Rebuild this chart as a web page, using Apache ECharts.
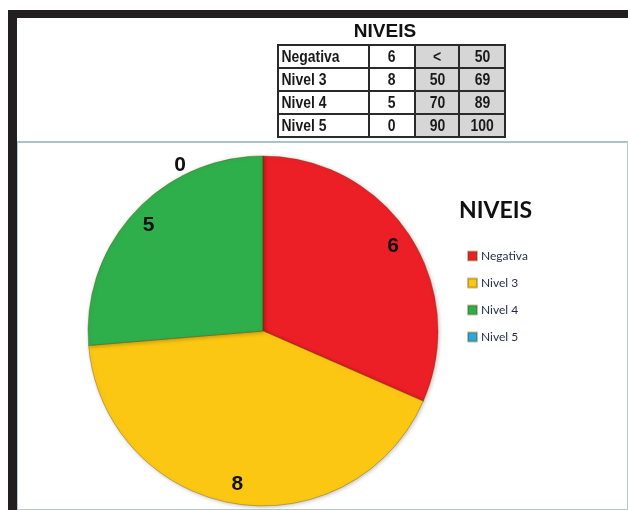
<!DOCTYPE html>
<html>
<head>
<meta charset="utf-8">
<script src="https://cdn.jsdelivr.net/npm/echarts@6/dist/echarts.min.js"></script>
<style>
    html, body { margin: 0; padding: 0; background: #fff; }
    #wrap { position: relative; width: 628px; height: 510px; overflow: hidden; }
    #barTop { position: absolute; left: 8px; top: 10px; width: 620px; height: 8px; background: #231f20; }
    #barLeft { position: absolute; left: 8px; top: 10px; width: 9px; height: 500px; background: #231f20; }
    #area { position: absolute; left: 17px; top: 141px; width: 609px; height: 366px; border: 1px solid #b9c8cf; border-top: 2px solid #a9c2cc; }
    #container { position: absolute; left: 0; top: 0; width: 628px; height: 510px; }
    #tblTitle { position: absolute; left: 330px; top: 20px; width: 110px; text-align: center;
        font: bold 19px "Liberation Sans", Arial, sans-serif; color: #111; }
    #tbl { position: absolute; left: 277px; top: 44px; border-collapse: collapse; table-layout: fixed; width: 227px;
        font: bold 17px "Liberation Sans", Arial, sans-serif; color: #1a1a1a; }
    #tbl td { border: 2px solid #2a2a2a; height: 21px; padding: 0; line-height: 21px; text-align: center; white-space: nowrap; overflow: hidden; }
    #tbl td span { display: inline-block; transform: scaleX(0.82); }
    #tbl td.nm { text-align: left; }
    #tbl td.nm span { transform-origin: 0 50%; padding-left: 3px; }
    #tbl td.g { background: #d6d6d6; }
</style>
</head>
<body>
<div id="wrap">
    <div id="barTop"></div>
    <div id="barLeft"></div>
    <div id="area"></div>
    <div id="container"></div>
    <div id="tblTitle">NIVEIS</div>
    <table id="tbl">
        <colgroup><col style="width:91px"><col style="width:46px"><col style="width:44px"><col style="width:46px"></colgroup>
        <tbody id="tbody"></tbody>
    </table>
</div>
<script>
// dados da tabela / grafico
var categorias = ['Negativa', 'Nivel 3', 'Nivel 4', 'Nivel 5'];
var valores = [6, 8, 5, 0];
var limiteInf = ['<', '50', '70', '90'];
var limiteSup = ['50', '69', '89', '100'];
var cores = ['#ed1f26', '#fbc713', '#2faf4b', '#2aa8de'];

// tabela NIVEIS
var tbody = document.getElementById('tbody');
for (var i = 0; i < categorias.length; i++) {
    var tr = document.createElement('tr');
    tr.innerHTML = '<td class="nm"><span>' + categorias[i] + '</span></td>' +
        '<td><span>' + valores[i] + '</span></td>' +
        '<td class="g"><span>' + limiteInf[i] + '</span></td>' +
        '<td class="g"><span>' + limiteSup[i] + '</span></td>';
    tbody.appendChild(tr);
}

var dom = document.getElementById('container');
var myChart = echarts.init(dom);

var dadosPie = [];
var dadosLabel = [];
for (var i = 0; i < categorias.length; i++) {
    dadosPie.push({ name: categorias[i], value: valores[i], itemStyle: { color: cores[i] } });
    var d = { name: categorias[i], value: valores[i] };
    if (valores[i] === 0) {
        // fatia vazia: rotulo fora, a esquerda do topo
        d.label = { offset: [-83, -10] };
    }
    dadosLabel.push(d);
}

var option = {
    animation: false,
    title: {
        text: 'NIVEIS',
        left: 459,
        top: 199,
        padding: 0,
        textStyle: {
            fontFamily: 'Lato',
            fontWeight: 'bold',
            fontSize: 23,
            color: '#111'
        }
    },
    legend: {
        orient: 'vertical',
        left: 467,
        top: 250,
        padding: 0,
        itemWidth: 9,
        itemHeight: 9,
        itemGap: 15,
        icon: 'rect',
        data: categorias,
        textStyle: {
            fontFamily: 'Lato',
            fontSize: 12,
            color: '#1f2a44',
            padding: [0, 0, 0, -1]
        }
    },
    series: [{
            name: 'NIVEIS',
            type: 'pie',
            center: [263, 331],
            radius: 175,
            startAngle: 90,
            clockwise: true,
            silent: true,
            label: { show: false },
            labelLine: { show: false },
            itemStyle: {
                borderColor: 'rgba(90,70,0,0.35)',
                borderWidth: 1,
                shadowColor: 'rgba(0,0,0,0.25)',
                shadowBlur: 4,
                shadowOffsetX: 1,
                shadowOffsetY: 1
            },
            data: dadosPie
        },
        {
            name: 'rotulos',
            type: 'pie',
            center: [263, 331],
            radius: [130, 175],
            startAngle: 90,
            clockwise: true,
            silent: true,
            itemStyle: { color: 'rgba(0,0,0,0)' },
            label: {
                show: true,
                position: 'inside',
                formatter: '{c}',
                fontFamily: 'Liberation Sans',
                fontWeight: 'bold',
                fontSize: 21,
                color: '#111'
            },
            labelLine: { show: false },
            data: dadosLabel
        }
    ]
};

myChart.setOption(option, true);
</script>
</body>
</html>
